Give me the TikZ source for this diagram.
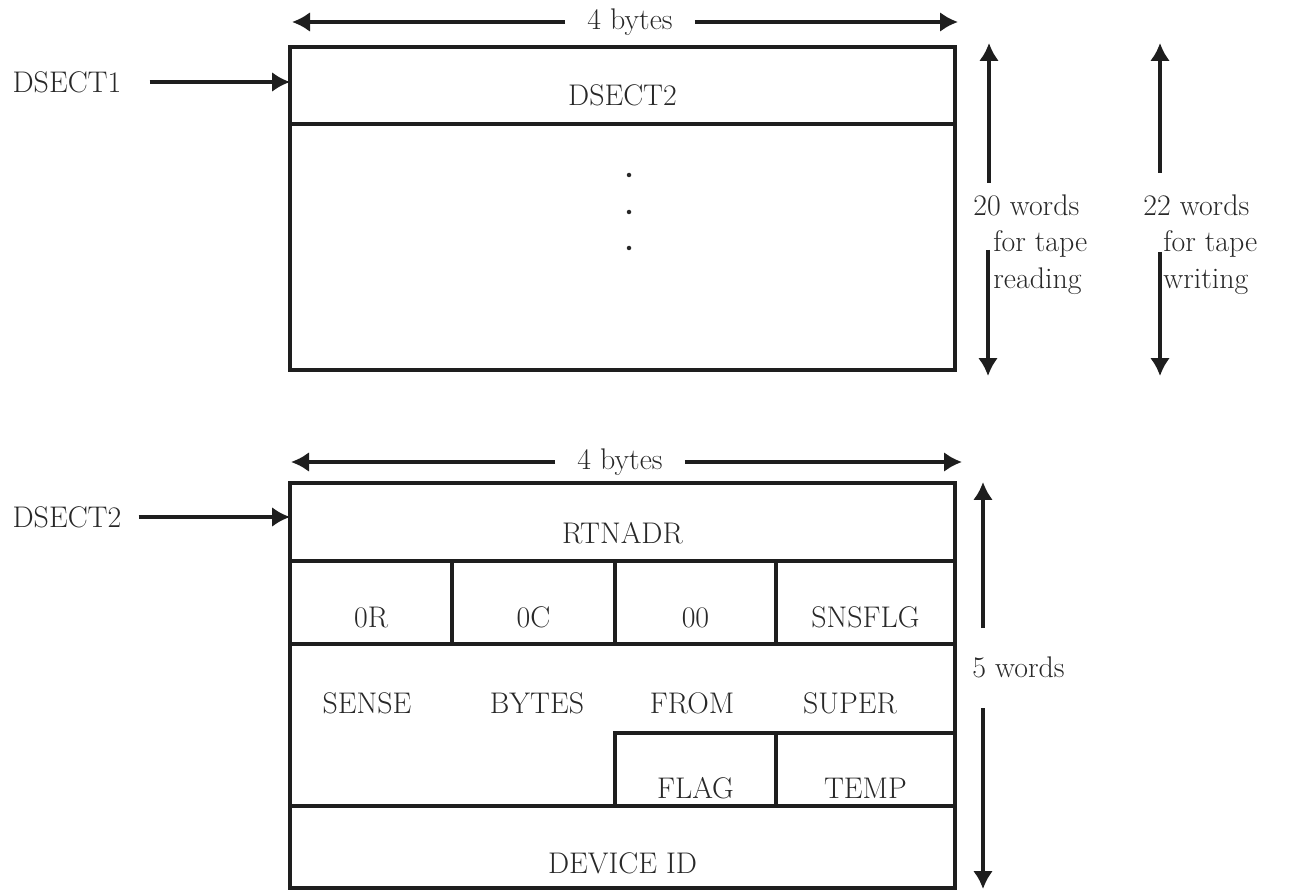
\documentclass[tikz,border=0pt]{standalone}
\usetikzlibrary{arrows.meta, positioning}
\definecolor{ink}{RGB}{40, 40, 40}
\definecolor{rule}{RGB}{30, 30, 30}

\begin{document}
\begin{tikzpicture}[
    x=0.02cm, y=-0.02cm,
    font=\fontsize{17}{21}\selectfont,
    fld/.style={rectangle, draw=rule, line width=2.3pt, outer sep=0pt, inner sep=0pt,
                text=ink, text height=1cm, text depth=0pt, minimum width=13.3cm},
    lbl/.style={text=ink, inner sep=0pt, align=left},
    dimlbl/.style={text=ink, inner xsep=0.44cm, inner ysep=0pt},
    dot/.style={circle, fill=ink, inner sep=0pt, minimum size=0.09cm},
    arr/.style={-{Latex[length=0.36cm, width=0.4cm]}, draw=rule, line width=2pt}
]
\useasboundingbox (0,0) rectangle (1290,891);

% =========== DSECT1: header row + body ===========
\node[fld, minimum height=1.54cm, text height=0.8cm] (hdrA) at (622.5,85.5) {DSECT2};
\node[fld, minimum height=4.92cm, below=0pt of hdrA]  (bodyA) {};
\node[dot] (dotA) at (629,175) {};
\node[dot] (dotB) at (629,212) {};
\node[dot] (dotC) at (629,248) {};

\node[lbl] (dsA) at (67,82) {DSECT1};
\draw[arr] ([xshift=0.56cm]dsA.east) -- (dsA.east -| hdrA.west);

\node[dimlbl] (bytesA) at (630,22) {4 bytes};
\coordinate (bytesAl) at (292,22);
\coordinate (bytesAr) at (958,22);
\draw[arr] (bytesA) -- (bytesAl);
\draw[arr] (bytesA) -- (bytesAr);

% word counts at the right
\node[lbl, anchor=north west] (rdTxt) at (973,194)
    {20 words\\\hspace*{0.4cm}for tape\\\hspace*{0.4cm}reading};
\coordinate (rdTop) at (989,43);
\coordinate (rdUp)  at (989,183);
\coordinate (rdDn)  at (988,250);
\coordinate (rdBot) at (988,376);
\draw[arr] (rdUp) -- (rdTop);
\draw[arr] (rdDn) -- (rdBot);

\node[lbl, anchor=north west] (wrTxt) at (1143,194)
    {22 words\\\hspace*{0.4cm}for tape\\\hspace*{0.4cm}writing};
\coordinate (wrTop) at (1160,43);
\coordinate (wrUp)  at (1160,173);
\coordinate (wrDn)  at (1160,252);
\coordinate (wrBot) at (1160,376);
\draw[arr] (wrUp) -- (wrTop);
\draw[arr] (wrDn) -- (wrBot);

% =========== DSECT2: five words ===========
\node[fld, minimum height=1.56cm, text height=0.85cm] (rtn) at (622.5,522) {RTNADR};

\node[fld, minimum width=3.24cm, minimum height=1.66cm,
      below right=0pt and 0pt of rtn.south west]      (cellR)  {0R};
\node[fld, minimum width=3.26cm, minimum height=1.66cm, right=0pt of cellR] (cellC)  {0C};
\node[fld, minimum width=3.22cm, minimum height=1.66cm, right=0pt of cellC] (cellZ)  {00};
\node[fld, minimum width=3.58cm, minimum height=1.66cm, right=0pt of cellZ] (snsflg) {SNSFLG};

\node[fld, minimum height=3.24cm, below right=0pt and 0pt of cellR.south west] (sense) {};
\node[lbl] (wSense) at (367,703) {SENSE};
\node[lbl] (wBytes) at (537,703) {BYTES};
\node[lbl] (wFrom)  at (692,703) {FROM};
\node[lbl] (wSuper) at (850,703) {SUPER};

\node[fld, minimum width=3.22cm, minimum height=1.46cm, text height=1.15cm,
      anchor=south west] (flag) at (sense.south -| cellZ.west) {FLAG};
\node[fld, minimum width=3.58cm, minimum height=1.46cm, text height=1.15cm,
      right=0pt of flag] (temp) {TEMP};

\node[fld, minimum height=1.64cm, text height=1.05cm,
      below right=0pt and 0pt of sense.south west] (devid) {DEVICE ID};

\node[lbl] (dsB) at (67,517) {DSECT2};
\draw[arr] ([xshift=0.34cm]dsB.east) -- (dsB.east -| rtn.west);

\node[dimlbl] (bytesB) at (620,462) {4 bytes};
\coordinate (bytesBl) at (291,462);
\coordinate (bytesBr) at (962,462);
\draw[arr] (bytesB) -- (bytesBl);
\draw[arr] (bytesB) -- (bytesBr);

\node[lbl, anchor=west] (fwTxt) at (972,667) {5 words};
\coordinate (fwTop) at (983,482);
\coordinate (fwUp)  at (983,628);
\coordinate (fwDn)  at (983,708);
\coordinate (fwBot) at (983,889);
\draw[arr] (fwUp) -- (fwTop);
\draw[arr] (fwDn) -- (fwBot);

\end{tikzpicture}
\end{document}
